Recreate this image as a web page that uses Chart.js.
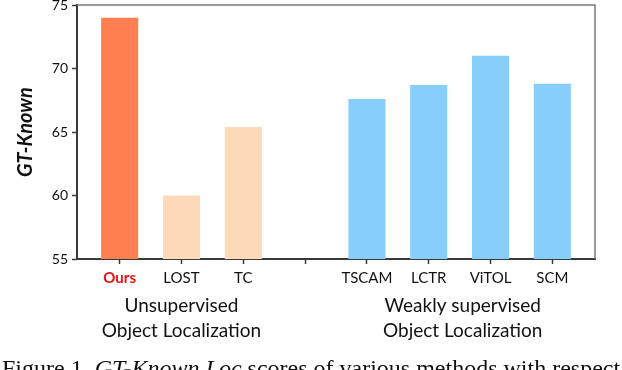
<!DOCTYPE html>
<html>
<head>
<meta charset="utf-8">
<script src="https://cdn.jsdelivr.net/npm/chart.js@4"></script>
<style>
  html, body { margin: 0; padding: 0; background: #fff; }
  #wrap { position: relative; width: 622px; height: 370px; overflow: hidden; }
  #c { position: absolute; left: 0; top: 0; }
  #cap { position: absolute; left: 2px; top: 356px; font-family: "Liberation Serif", serif; font-size: 24px; line-height: 1; color: #111; white-space: nowrap; }
</style>
</head>
<body>
<div id="wrap">
  <canvas id="c" width="622" height="370"></canvas>
  <div id="cap">Figure 1. <i>GT-Known Loc</i> scores of various methods with respect</div>
</div>
<script>
// ---- data ----
const categories = ['Ours', 'LOST', 'TC', '', 'TSCAM', 'LCTR', 'ViTOL', 'SCM'];
const gtKnown    = [74.0, 60.0, 65.4, null, 67.6, 68.7, 71.0, 68.8];
const methodType = ['ours', 'unsup', 'unsup', '', 'weak', 'weak', 'weak', 'weak'];
const yTicks     = [55, 60, 65, 70, 75];
const groupLabels = [
  { lines: ['Unsupervised', 'Object Localization'], at: 1 },
  { lines: ['Weakly supervised', 'Object Localization'], at: 5.55 }
];

const typeColor = { ours: 'rgb(255,127,80)', unsup: 'rgb(255,218,185)', weak: 'rgb(135,206,250)', '': 'rgba(0,0,0,0)' };

const frame = {
  id: 'frame',
  afterDraw(chart) {
    const { ctx, chartArea: a } = chart;
    ctx.save();
    ctx.strokeStyle = '#7a7a7a';
    ctx.lineWidth = 1.5;
    ctx.beginPath();
    ctx.moveTo(a.left, a.top);
    ctx.lineTo(a.right, a.top);
    ctx.lineTo(a.right, a.bottom);
    ctx.stroke();
    // group labels
    const xs = chart.scales.x;
    ctx.fillStyle = '#111';
    ctx.font = '19px Lato';
    ctx.textAlign = 'center';
    ctx.textBaseline = 'middle';
    groupLabels.forEach(g => {
      const px = xs.getPixelForValue(g.at);
      g.lines.forEach((t, i) => ctx.fillText(t, px, 306 + i * 25));
    });
    ctx.restore();
  }
};

new Chart(document.getElementById('c'), {
  type: 'bar',
  data: {
    datasets: [{
      data: categories.map((c, i) => ({ x: i, y: gtKnown[i] })),
      backgroundColor: methodType.map(t => typeColor[t]),
      borderWidth: 0,
      barPercentage: 0.6,
      categoryPercentage: 1.0
    }]
  },
  options: {
    responsive: false,
    animation: false,
    devicePixelRatio: 1,
    layout: { padding: { top: 5, right: 27, left: 0, bottom: 0 } },
    plugins: { legend: { display: false }, tooltip: { enabled: false } },
    scales: {
      x: {
        type: 'linear',
        offset: false,
        min: -0.69,
        max: 7.69,
        afterBuildTicks(s) { s.ticks = categories.map((c, i) => ({ value: i })); },
        afterFit(s) { s.height = 111; s.paddingLeft = 0; s.paddingRight = 0; },
        border: { display: true, color: '#3a3a3a', width: 2 },
        grid: { offset: false, drawOnChartArea: false, tickLength: 5, tickColor: '#3a3a3a', tickWidth: 1.5 },
        ticks: {
          autoSkip: false,
          maxRotation: 0,
          padding: 5,
          callback: (v) => categories[v] ?? '',
          color: (ctx) => (ctx.tick && ctx.tick.value === 0 ? '#ee1111' : '#111'),
          font: (ctx) => ({ family: 'Lato', size: 15, weight: ctx.tick && ctx.tick.value === 0 ? 'bold' : 'normal' })
        }
      },
      y: {
        min: 55,
        max: 75,
        afterBuildTicks(s) { s.ticks = yTicks.map(v => ({ value: v })); },
        afterFit(s) { s.width = 77; s.paddingTop = 0; s.paddingBottom = 0; },
        border: { display: true, color: '#3a3a3a', width: 2 },
        grid: { drawOnChartArea: false, tickLength: 5, tickColor: '#3a3a3a', tickWidth: 1.5 },
        ticks: { padding: 4, color: '#111', font: { family: 'Lato', size: 14 } },
        title: {
          display: true,
          text: 'GT-Known',
          color: '#111',
          padding: { top: 14, bottom: 0 },
          font: { family: 'Lato', size: 20, weight: 'bold', style: 'italic' }
        }
      }
    }
  },
  plugins: [frame]
});
</script>
</body>
</html>
